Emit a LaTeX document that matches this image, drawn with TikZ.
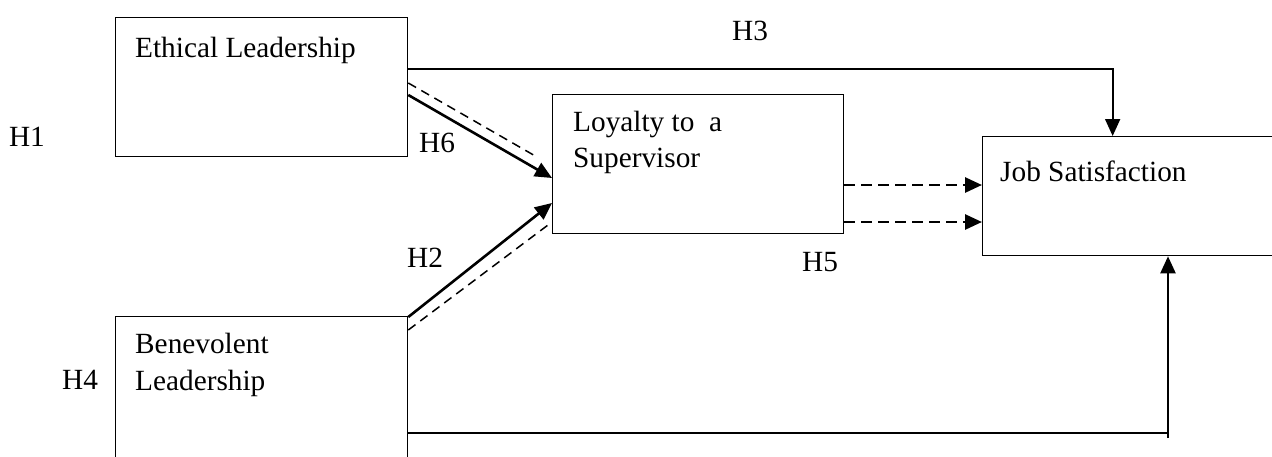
\documentclass[tikz,border=0pt]{standalone}
\usepackage{fontspec}
\setmainfont{Liberation Serif}
\usetikzlibrary{arrows.meta}
\begin{document}
\begin{tikzpicture}[x=1pt,y=-1pt,
  box/.style={draw,line width=1.3pt,rectangle,inner sep=0pt,anchor=north west},
  txt/.style={anchor=base west,inner sep=0pt,font=\fontsize{29.3}{35}\selectfont},
  lab/.style={inner sep=0pt,font=\fontsize{29.3}{35}\selectfont},
  tip/.style={-{Triangle[length=17pt,width=15pt]}},
  solidarr/.style={tip,line width=2.6pt},
  plainline/.style={line width=1.8pt},
  dashline/.style={line width=1.5pt,dash pattern=on 9pt off 6pt},
  dasharr/.style={tip,line width=2.8pt,dash pattern=on 11pt off 6pt}]
\useasboundingbox (0,0) rectangle (1272,456);
\clip (0,0) rectangle (1272,456);
\fill[white] (0,0) rectangle (1272,456);
% boxes
\node[box,minimum width=292pt,minimum height=139pt] (E) at (115,17) {};
\node[box,minimum width=291pt,minimum height=139pt] (L) at (552,94) {};
\node[box,minimum width=310pt,minimum height=119pt] (J) at (982,136) {};
\node[box,minimum width=292pt,minimum height=160pt] (B) at (115,316) {};
% box texts
\node[txt] (te) at (135,57) {Ethical Leadership};
\node[txt] (tl1) at (573,131) {Loyalty to\ \ a};
\node[txt] (tl2) at (573,167) {Supervisor};
\node[txt] (tj) at (1000,181) {Job Satisfaction};
\node[txt] (tb1) at (135,353) {Benevolent};
\node[txt] (tb2) at (135,390) {Leadership};
% labels
\node[lab] (h3) at (750,31) {H3};
\node[lab] (h1) at (27,137) {H1};
\node[lab] (h6) at (437,143) {H6};
\node[lab] (h2) at (425,258) {H2};
\node[lab] (h5) at (820,262) {H5};
\node[lab] (h4) at (80,380) {H4};
% H3 path
\draw[plainline,tip] ([yshift=-52pt]E.north east) -| ([xshift=-25pt]J.north);
% H6
\draw[dashline] ([yshift=-66pt]E.north east) -- ([xshift=-15pt,yshift=-63pt]L.north west);
\draw[solidarr] ([yshift=-78pt]E.north east) -- ([yshift=-84pt]L.north west);
% H2
\draw[solidarr] ([yshift=-1pt]B.north east) -- ([yshift=-109pt]L.north west);
\draw[dashline] ([yshift=-14pt]B.north east) -- ([xshift=-4pt,yshift=-131pt]L.north west);
% H5
\draw[dasharr] ([yshift=-91pt]L.north east) -- ([yshift=-49pt]J.north west);
\draw[dasharr] ([yshift=-128pt]L.north east) -- ([yshift=-86pt]J.north west);
% H4
\coordinate (c4) at (1168,438);
\draw[plainline] ([yshift=-117pt]B.north east) -- (c4 |- 0,433);
\draw[plainline,line width=2.3pt,tip] (c4) -- (c4 |- J.south);
\end{tikzpicture}
\end{document}
